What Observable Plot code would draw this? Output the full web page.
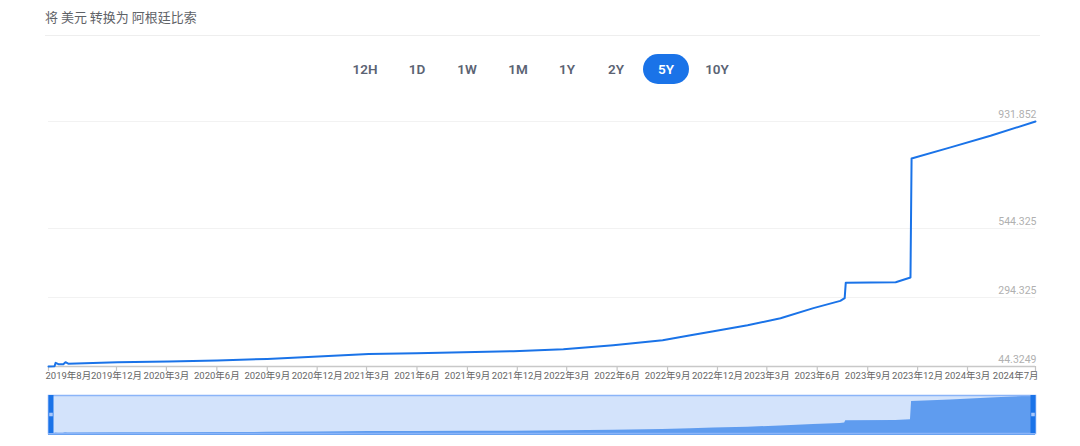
<!DOCTYPE html>
<html>
<head>
<meta charset="utf-8">
<script src="https://cdn.jsdelivr.net/npm/d3@7"></script>
<script src="https://cdn.jsdelivr.net/npm/@observablehq/plot@0.6"></script>
<style>
  html, body { margin: 0; padding: 0; background: #fff; }
  body { width: 1080px; height: 446px; position: relative; overflow: hidden;
         font-family: Roboto, "Noto Sans CJK SC", sans-serif; }
  #title { position: absolute; left: 45px; top: 7px; font-size: 13px; color: #5f6368;
           font-family: "Noto Sans CJK SC", Roboto, sans-serif; }
  #sep { position: absolute; left: 45px; top: 35px; width: 995px; height: 1px; background: #eeeeee; }
  #buttons { position: absolute; top: 54px; left: 0; width: 1080px; height: 30px; }
  .btn { position: absolute; top: 0; height: 30px; line-height: 30px; width: 46px; margin-left: -23px;
         text-align: center; font-size: 13.5px; font-weight: 600; color: #5b6373; border-radius: 15px; }
  .btn.active { background: #1a73e8; color: #fff; }
  #chart { position: absolute; left: 0; top: 100px; }
  #nav { position: absolute; left: 0; top: 394px; }
</style>
</head>
<body>
<div id="title">将 美元 转换为 阿根廷比索</div>
<div id="sep"></div>
<div id="buttons"></div>
<div id="chart"></div>
<div id="nav"></div>
<script>
// ---- data ----
const ranges = ["12H", "1D", "1W", "1M", "1Y", "2Y", "5Y", "10Y"];
const activeRange = "5Y";
const rangeCenters = [365, 417, 467, 518, 567, 616, 666, 717];

const dates = [
  "2019-07-30", "2019-08-10", "2019-08-12", "2019-08-17", "2019-08-26", "2019-08-30", "2019-09-04",
  "2019-12-03", "2020-03-05", "2020-06-02", "2020-09-01", "2020-12-03", "2021-03-05",
  "2021-05-31", "2021-08-25", "2021-11-24", "2022-02-23", "2022-05-25", "2022-08-23",
  "2022-10-13", "2022-11-24", "2023-01-25", "2023-03-26", "2023-05-25", "2023-07-13",
  "2023-07-21", "2023-07-23", "2023-10-22", "2023-11-18", "2023-11-20",
  "2024-01-30", "2024-04-12", "2024-07-03"
];
const rates = [
  44.3249, 45.4, 57.4, 52.7, 52.7, 59.9, 54.5,
  60, 62.4, 66, 71.9, 80.5, 90,
  92.5, 96.1, 99.8, 107, 121.5, 139.6,
  157.7, 172.2, 194, 219, 255.8, 282,
  291.8, 348, 349.8, 366.8, 798,
  838, 880, 931.852
];

const xDomain = ["2019-07-30", "2024-07-03"];
const yTicks = [44.3249, 294.325, 544.325, 931.852];
const yTickLabels = ["44.3249", "294.325", "544.325", "931.852"];
const xTicks = [
  "2019-07-30", "2019-12-01", "2020-03-01", "2020-06-01", "2020-09-01", "2020-12-01",
  "2021-03-01", "2021-06-01", "2021-09-01", "2021-12-01", "2022-03-01", "2022-06-01",
  "2022-09-01", "2022-12-01", "2023-03-01", "2023-06-01", "2023-09-01", "2023-12-01",
  "2024-03-01", "2024-07-03"
];
const xTickLabels = [
  "2019年8月", "2019年12月", "2020年3月", "2020年6月", "2020年9月", "2020年12月",
  "2021年3月", "2021年6月", "2021年9月", "2021年12月", "2022年3月", "2022年6月",
  "2022年9月", "2022年12月", "2023年3月", "2023年6月", "2023年9月", "2023年12月",
  "2024年3月", "2024年7月"
];

// ---- buttons ----
const bwrap = document.getElementById("buttons");
ranges.forEach((r, i) => {
  const b = document.createElement("div");
  b.className = "btn" + (r === activeRange ? " active" : "");
  b.style.left = rangeCenters[i] + "px";
  b.textContent = r;
  bwrap.appendChild(b);
});

// ---- chart ----
const data = dates.map((d, i) => ({date: new Date(d), rate: rates[i]}));
const xd = xDomain.map(d => new Date(d));
const ticks = xTicks.map((d, i) => ({date: new Date(d), label: xTickLabels[i]}));
const yt = yTicks.map((v, i) => ({v, label: yTickLabels[i]}));
const font = "Roboto, 'Noto Sans CJK SC', sans-serif";
const xLabelStyle = {x: "date", text: "label", frameAnchor: "bottom", dy: 12, fill: "#666", fontSize: 9.5};

const chart = Plot.plot({
  width: 1080,
  height: 290,
  marginLeft: 48,
  marginRight: 45,
  marginTop: 21,
  marginBottom: 24,
  style: {fontFamily: font, background: "transparent", overflow: "visible"},
  x: {type: "utc", domain: xd, axis: null},
  y: {domain: [yTicks[0], yTicks[yTicks.length - 1]], axis: null},
  marks: [
    Plot.ruleY(yt.slice(1), {y: "v", stroke: "#f2f2f2", strokeWidth: 1}),
    Plot.axisX(ticks.map(t => t.date), {tickSize: 5, tickFormat: () => "", stroke: "#c4c4c4", strokeWidth: 1.2}),
    Plot.ruleY([yTicks[0]], {stroke: "#c8c8c8", strokeWidth: 1.5}),
    Plot.text(yt, {y: "v", text: "label", frameAnchor: "right", textAnchor: "end", dx: 1, dy: -7,
                   fill: "#b0b0b0", fontSize: 10.5}),
    Plot.text(ticks.slice(0, 1), {...xLabelStyle, dx: -3, textAnchor: "start"}),
    Plot.text(ticks.slice(1, -1), {...xLabelStyle, textAnchor: "middle"}),
    Plot.text(ticks.slice(-1), {...xLabelStyle, dx: 3, textAnchor: "end"}),
    Plot.lineY(data, {x: "date", y: "rate", stroke: "#1a73e8", strokeWidth: 2, strokeLinejoin: "round"})
  ]
});
document.getElementById("chart").appendChild(chart);

// ---- navigator ----
const nav = Plot.plot({
  width: 1080,
  height: 40,
  marginLeft: 48,
  marginRight: 45,
  marginTop: 1,
  marginBottom: 1,
  style: {background: "transparent", overflow: "visible"},
  x: {type: "utc", domain: xd, axis: null},
  y: {domain: [yTicks[0], yTicks[yTicks.length - 1] + 10], axis: null},
  marks: [
    Plot.frame({fill: "#d3e3fb", stroke: "none"}),
    Plot.areaY(data, {x: "date", y: "rate", fill: "#5f9cef"}),
    Plot.frame({stroke: "#8ab4f8", strokeWidth: 1.5}),
    Plot.ruleX(xd.slice(0, 1), {stroke: "#1a73e8", strokeWidth: 5, dx: 2.5}),
    Plot.ruleX(xd.slice(1), {stroke: "#1a73e8", strokeWidth: 5, dx: -2.5}),
    Plot.dot(xd.slice(0, 1), {x: d => d, symbol: "square", r: 2, fill: "#a8c7fa", stroke: "none", dx: 2.5}),
    Plot.dot(xd.slice(1), {x: d => d, symbol: "square", r: 2, fill: "#a8c7fa", stroke: "none", dx: -2.5})
  ]
});
document.getElementById("nav").appendChild(nav);
</script>
</body>
</html>
